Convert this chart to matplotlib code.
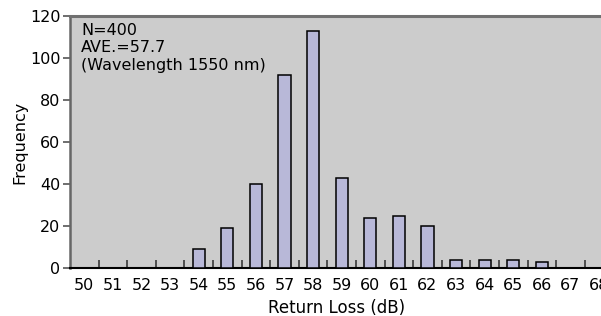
import matplotlib
matplotlib.use("Agg")
import matplotlib.pyplot as plt
import numpy as np

plt.rcParams['font.family'] = ['DejaVu Sans']

# Return loss bins (dB) and counts
loss_db = [50, 51, 52, 53, 54, 55, 56, 57, 58, 59, 60, 61, 62, 63, 64, 65, 66, 67, 68]
counts = [0, 0, 0, 0, 9, 19, 40, 92, 113, 43, 24, 25, 20, 4, 4, 4, 3, 0, 0]
y_ticks = [0, 20, 40, 60, 80, 100, 120]
note_lines = ["N=400", "AVE.=57.7", "(Wavelength 1550 nm)"]

FS = 11.5
W, H = 601, 316
fig = plt.figure(figsize=(W / 100, H / 100), dpi=100)
# axes in pixel terms: left 70, top 16, bottom 268, 28.6 px per bin
left, top, bottom = 70, 16, 268
step = 28.6
ax_w = step * len(loss_db)
ax = fig.add_axes([left / W, (H - bottom) / H, ax_w / W, (bottom - top) / H])
ax.set_facecolor('#cccccc')

x = np.array(loss_db)
ax.bar(x, counts, width=0.42, color='#b8b8d8', edgecolor='black', linewidth=1.1, zorder=3)

ax.set_xlim(x[0] - 0.5, x[-1] + 0.5)
ax.set_ylim(0, 120)
ax.set_xticks(x)
ax.set_xticklabels([str(v) for v in loss_db])
ax.set_xticks(x[:-1] + 0.5, minor=True)
ax.tick_params(axis='x', which='major', length=0, pad=7, labelsize=FS)
ax.tick_params(axis='x', which='minor', direction='in', length=6, width=1.3, color='#444444')
ax.set_yticks(y_ticks)
ax.tick_params(axis='y', direction='out', length=5, width=1.2, color='#555555', pad=2, labelsize=FS)

ax.spines['top'].set_color('#707070')
ax.spines['top'].set_linewidth(2.2)
ax.spines['left'].set_color('#666666')
ax.spines['left'].set_linewidth(1.8)
ax.spines['bottom'].set_color('black')
ax.spines['bottom'].set_linewidth(1.5)
ax.spines['right'].set_visible(False)

ax.text(11 / ax_w, (bottom - 23) / (bottom - top), "\n".join(note_lines),
        transform=ax.transAxes, ha='left', va='top', fontsize=FS, linespacing=1.2)

fig.text(337 / W, 1 - 308 / H, "Return Loss (dB)", ha='center', va='center', fontsize=12)
fig.text(20 / W, 1 - 142 / H, "Frequency", ha='center', va='center', rotation=90, fontsize=FS)

fig.savefig("out.png", dpi=100)
